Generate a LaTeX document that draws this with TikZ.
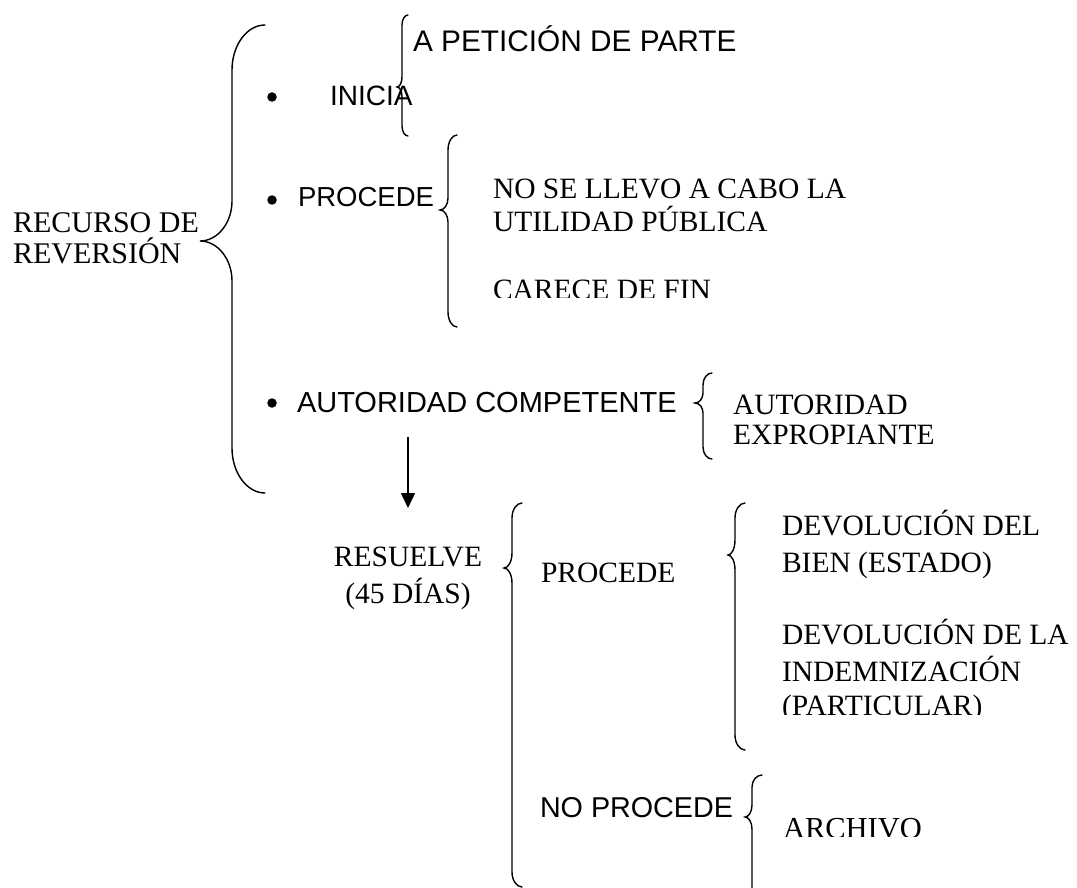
\documentclass[tikz,border=0pt]{standalone}
\usepackage{fontspec}
\setmainfont{Liberation Serif}
\newfontfamily\arialf{Liberation Sans}
\usetikzlibrary{arrows.meta}
\newcommand\curlybr[8]{%
 \draw[bracestyle] (#1,#2) .. controls ({#1-0.55*(#1-#3)},#2) and (#3,{#2+0.45*#7}) .. (#3,{#2+#7})
 -- (#3,{#5-#8}) .. controls (#3,{#5-0.45*#8}) and ({#3-0.45*(#3-#4)},#5) .. (#4,#5)
 .. controls ({#3-0.45*(#3-#4)},#5) and (#3,{#5+0.45*#8}) .. (#3,{#5+#8})
 -- (#3,{#6-#7}) .. controls (#3,{#6-0.45*#7}) and ({#1-0.55*(#1-#3)},#6) .. (#1,#6);}
\tikzset{
  bracestyle/.style={line width=1.4pt, line cap=round},
  txt/.style={anchor=base west, inner sep=0pt, outer sep=0pt},
  serif/.style={txt, font=\fontsize{29.5}{33}\selectfont},
  sans/.style={txt, font=\arialf\fontsize{29}{33}\selectfont},
  bul/.style={fill=black, circle, inner sep=0pt, minimum size=9.5pt},
}
\begin{document}
\begin{tikzpicture}[x=1pt,y=-1pt]
\clip (0,0) rectangle (1077,888);
\useasboundingbox (0,0) rectangle (1077,888);

% left title
\node[serif, font=\fontsize{30}{33}\selectfont] (rec1) at (13,233) {RECURSO DE};
\node[serif, font=\fontsize{30}{33}\selectfont] (rec2) at (13,263) {REVERSIÓN};
\curlybr{265}{25}{232}{200}{241}{493}{45}{40}

% bullets
\node[bul] (b1) at (272,97) {};
\node[bul] (b2) at (272,200) {};
\node[bul] (b3) at (272,403) {};

% INICIA
\node[sans, font=\arialf\fontsize{28}{33}\selectfont] (inicia) at (330,106) {INICIA};
\curlybr{408}{15}{402}{397}{87}{136}{10}{10}
\node[sans, font=\arialf\fontsize{29.8}{33}\selectfont] (peticion) at (413,52) {A PETICIÓN DE PARTE};

% PROCEDE
\node[sans, font=\arialf\fontsize{27.5}{33}\selectfont] (procede1) at (298,207) {PROCEDE};
\curlybr{457}{135}{448}{440}{210}{327}{15}{12}
\node[serif] (nose1) at (493,198) {NO SE LLEVO A CABO LA};
\node[serif] (nose2) at (493,231) {UTILIDAD PÚBLICA};
\begin{scope}
\clip (480,270) rectangle (900,297.5);
\node[serif] (carece) at (493,299) {CARECE DE FIN};
\end{scope}

% AUTORIDAD COMPETENTE
\node[sans] (autcomp) at (297,412) {AUTORIDAD COMPETENTE};
\curlybr{712}{373}{703}{695}{403}{459}{12}{10}
\node[serif] (autexp1) at (733,414) {AUTORIDAD};
\node[serif] (autexp2) at (733,444) {EXPROPIANTE};

% arrow
\coordinate (arrA) at (408,437);
\coordinate (arrB) at (408,508);
\draw[line width=1.4pt, -{Triangle[length=15pt,width=14pt]}] (arrA) -- (arrB);

% RESUELVE
\node[serif, anchor=base] (res1) at (408,566) {RESUELVE};
\node[serif, anchor=base] (res2) at (408,603) {(45 DÍAS)};
\curlybr{522}{503}{512}{504}{568}{887}{15}{15}

\node[serif] (procede2) at (541,582) {PROCEDE};
\curlybr{745}{503}{735}{728}{555}{750}{15}{15}
\node[serif] (dev1) at (782,535) {DEVOLUCIÓN DEL};
\node[serif] (dev2) at (782,572) {BIEN (ESTADO)};
\node[serif] (dev3) at (782,644) {DEVOLUCIÓN DE LA};
\node[serif] (dev4) at (782,681) {INDEMNIZACIÓN};
\begin{scope}
\clip (770,690) rectangle (1077,714.5);
\node[serif] (dev5) at (782,715) {(PARTICULAR)};
\end{scope}

\node[sans, font=\arialf\fontsize{28.7}{33}\selectfont] (noproc) at (540,817) {NO PROCEDE};
\curlybr{762}{775}{752}{745}{817}{920}{12}{12}
\begin{scope}
\clip (770,810) rectangle (1000,836);
\node[serif, font=\fontsize{30.5}{33}\selectfont] (archivo) at (783,838) {ARCHIVO};
\end{scope}
\end{tikzpicture}
\end{document}
